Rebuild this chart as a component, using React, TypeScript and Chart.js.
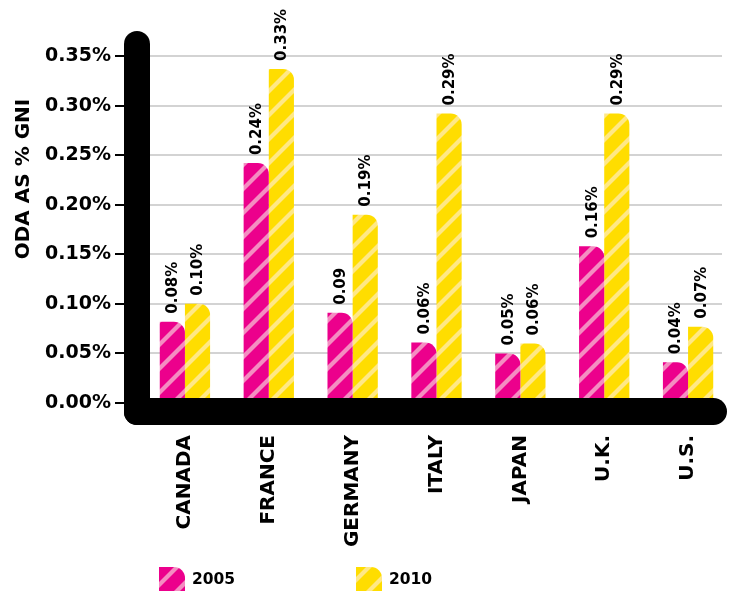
import React, { useEffect, useRef } from "react";
import { Chart, registerables } from "chart.js";

Chart.register(...registerables);

const CATEGORIES = ["CANADA", "FRANCE", "GERMANY", "ITALY", "JAPAN", "U.K.", "U.S."];
const SERIES_NAMES = ["2005", "2010"];
const VALUES_2005 = [0.082, 0.242, 0.091, 0.061, 0.05, 0.158, 0.041];
const VALUES_2010 = [0.1, 0.337, 0.19, 0.292, 0.06, 0.292, 0.077];
const LABELS_2005 = ["0.08%", "0.24%", "0.09", "0.06%", "0.05%", "0.16%", "0.04%"];
const LABELS_2010 = ["0.10%", "0.33%", "0.19%", "0.29%", "0.06%", "0.29%", "0.07%"];
const Y_TICKS = [0, 0.05, 0.1, 0.15, 0.2, 0.25, 0.3, 0.35];
const Y_TICK_LABELS = ["0.00%", "0.05%", "0.10%", "0.15%", "0.20%", "0.25%", "0.30%", "0.35%"];
const Y_TITLE = "ODA AS % GNI";

const BASE_COLORS = ["#EC008C", "#FFDD00"];
const STRIPE_COLORS = ["#F48DC1", "#FFE886"];
const DATA_LABELS = [LABELS_2005, LABELS_2010];
const FONT = "'DejaVu Sans', sans-serif";

function makePattern(base: string, stripe: string): CanvasPattern | string {
  const S = 24;
  const c = document.createElement("canvas");
  c.width = S;
  c.height = S;
  const g = c.getContext("2d");
  if (!g) return base;
  g.fillStyle = base;
  g.fillRect(0, 0, S, S);
  g.strokeStyle = stripe;
  g.lineWidth = 4.2;
  for (let k = -1; k <= 1; k++) {
    g.beginPath();
    g.moveTo(-2, S + k * S + 2);
    g.lineTo(S + 2, k * S - 2);
    g.stroke();
  }
  const p = g.createPattern(c, "repeat");
  return p || base;
}

const decorPlugin = {
  id: "decor",
  beforeDatasetsDraw(chart: any) {
    const { ctx, chartArea } = chart;
    const y = chart.scales.y;
    ctx.save();
    ctx.lineWidth = 2;
    Y_TICKS.forEach((v) => {
      const py = Math.round(y.getPixelForValue(v));
      if (v > 0) {
        ctx.strokeStyle = "#D3D3D3";
        ctx.beginPath();
        ctx.moveTo(chartArea.left + 7, py);
        ctx.lineTo(chartArea.right - 8, py);
        ctx.stroke();
      }
      ctx.strokeStyle = "#000";
      ctx.beginPath();
      ctx.moveTo(chartArea.left - 28, py);
      ctx.lineTo(chartArea.left - 18, py);
      ctx.stroke();
    });
    ctx.restore();
  },
  afterDatasetsDraw(chart: any) {
    const { ctx, chartArea } = chart;
    const y = chart.scales.y;
    const zero = y.getPixelForValue(0);
    ctx.save();
    ctx.fillStyle = "#000";
    const axL = chartArea.left - 19;
    // vertical thick axis
    ctx.beginPath();
    ctx.roundRect(axL, chartArea.top - 25, 26, zero + 22 - (chartArea.top - 25), [13, 13, 0, 13]);
    ctx.fill();
    // horizontal thick axis
    ctx.beginPath();
    ctx.roundRect(axL, zero - 5, chartArea.right - 3 - axL, 27, [0, 13.5, 13.5, 13]);
    ctx.fill();

    // data labels
    chart.data.datasets.forEach((_ds: any, di: number) => {
      const meta = chart.getDatasetMeta(di);
      const labels = DATA_LABELS[di];
      meta.data.forEach((bar: any, i: number) => {
        ctx.save();
        ctx.translate(bar.x, bar.y - 8);
        ctx.rotate(-Math.PI / 2);
        ctx.font = `bold 15px ${FONT}`;
        ctx.textAlign = "left";
        ctx.textBaseline = "middle";
        ctx.fillStyle = "#000";
        ctx.fillText(labels[i], 0, 1);
        ctx.restore();
      });
    });
    ctx.restore();
  },
  afterDraw(chart: any) {
    const { ctx } = chart;
    ctx.save();
    // y-axis title
    ctx.translate(23, 179);
    ctx.rotate(-Math.PI / 2);
    ctx.font = `bold 20px ${FONT}`;
    ctx.textAlign = "center";
    ctx.textBaseline = "middle";
    ctx.fillStyle = "#000";
    ctx.fillText(Y_TITLE, 0, 1);
    ctx.restore();

    // legend
    const legendX = [159, 356];
    const boxY = 567;
    chart.data.datasets.forEach((ds: any, di: number) => {
      const x = legendX[di];
      ctx.save();
      ctx.fillStyle = ds.backgroundColor;
      ctx.beginPath();
      ctx.roundRect(x, boxY, 26, 24, [0, 11, 0, 0]);
      ctx.fill();
      ctx.fillStyle = "#000";
      ctx.font = `bold 15.5px ${FONT}`;
      ctx.textAlign = "left";
      ctx.textBaseline = "middle";
      ctx.fillText(ds.label, x + 33, boxY + 13);
      ctx.restore();
    });
  },
};

export default function App() {
  const canvasRef = useRef<HTMLCanvasElement | null>(null);

  useEffect(() => {
    const canvas = canvasRef.current;
    if (!canvas) return;
    const chart = new Chart(canvas, {
      type: "bar",
      data: {
        labels: CATEGORIES,
        datasets: [
          {
            label: SERIES_NAMES[0],
            data: VALUES_2005,
            backgroundColor: makePattern(BASE_COLORS[0], STRIPE_COLORS[0]) as any,
            borderWidth: 0,
            borderRadius: { topLeft: 0, topRight: 11, bottomLeft: 0, bottomRight: 0 },
            borderSkipped: false,
            categoryPercentage: 0.6,
            barPercentage: 1,
          },
          {
            label: SERIES_NAMES[1],
            data: VALUES_2010,
            backgroundColor: makePattern(BASE_COLORS[1], STRIPE_COLORS[1]) as any,
            borderWidth: 0,
            borderRadius: { topLeft: 0, topRight: 11, bottomLeft: 0, bottomRight: 0 },
            borderSkipped: false,
            categoryPercentage: 0.6,
            barPercentage: 1,
          },
        ],
      },
      plugins: [decorPlugin],
      options: {
        animation: false,
        responsive: false,
        layout: { padding: { top: 56, right: 1, left: 0, bottom: 0 } },
        plugins: {
          legend: { display: false },
          tooltip: { enabled: false },
        },
        scales: {
          x: {
            grid: { display: false, drawTicks: false },
            border: { display: false },
            ticks: {
              autoSkip: false,
              minRotation: 90,
              maxRotation: 90,
              padding: 32,
              color: "#000",
              font: { family: FONT, weight: "bold", size: 20 },
            },
            afterFit: (scale: any) => {
              scale.height = 193;
              scale.paddingLeft = 0;
              scale.paddingRight = 0;
            },
          },
          y: {
            min: 0,
            max: 0.35,
            grid: { display: false, drawTicks: false },
            border: { display: false },
            ticks: {
              stepSize: 0.05,
              padding: 32,
              color: "#000",
              font: { family: FONT, weight: "bold", size: 19 },
              callback: (_v: any, i: number) => Y_TICK_LABELS[i],
            },
            afterFit: (scale: any) => {
              scale.width = 143;
              scale.paddingTop = 0;
              scale.paddingBottom = 0;
            },
          },
        },
      },
    });
    return () => chart.destroy();
  }, []);

  return (
    <div style={{ position: "absolute", left: 0, top: 0, width: 731, height: 596, background: "#fff" }}>
      <canvas ref={canvasRef} width={731} height={596} />
    </div>
  );
}
